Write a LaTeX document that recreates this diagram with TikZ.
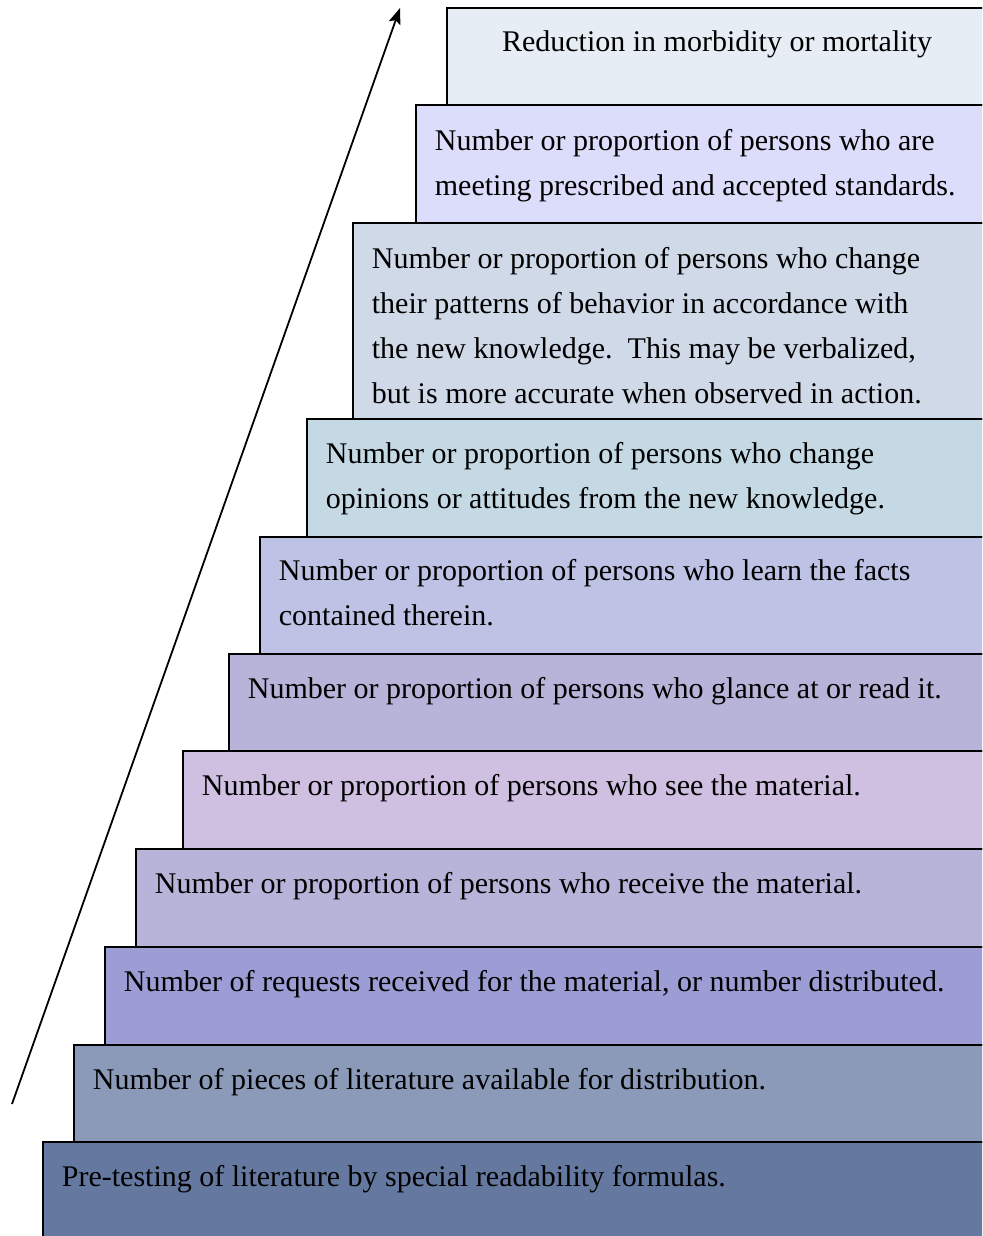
\documentclass[tikz,border=0pt]{standalone}
\usepackage{fontspec}
\setmainfont{Liberation Serif}
\usetikzlibrary{arrows.meta, positioning, calc}
\definecolor{stepA}{HTML}{E6EDF5}
\definecolor{stepB}{HTML}{DCDCFB}
\definecolor{stepC}{HTML}{D0D9E8}
\definecolor{stepD}{HTML}{C5D9E5}
\definecolor{stepE}{HTML}{BEC2E4}
\definecolor{stepF}{HTML}{B8B3D9}
\definecolor{stepG}{HTML}{CFC0E1}
\definecolor{stepH}{HTML}{B7B3D9}
\definecolor{stepI}{HTML}{9B9DD4}
\definecolor{stepJ}{HTML}{8A9AB8}
\definecolor{stepK}{HTML}{6579A0}
\tikzset{
  stairbox/.style={draw=black, line width=1pt, anchor=north west, inner sep=0pt, minimum width=#1},
  stairtext/.style={anchor=base west, align=left, inner sep=0pt, font=\fontsize{15}{22.5}\selectfont},
  risearr/.style={-{Stealth[length=8pt, width=6pt, inset=1.5pt]}, line width=0.9pt},
}
\begin{document}
\begin{tikzpicture}[x=0.5pt, y=-0.5pt]
    \useasboundingbox (0,0) rectangle (982,1236);
    \clip (0,0) rectangle (982,1236);
    % staircase, bottom step last
    \node[stairbox=270pt, fill=stepA, minimum height=48.5pt] (s1) at (446,7) {};
    \node[stairbox=285.5pt, fill=stepB, minimum height=59pt] (s2) at (415,104) {};
    \node[stairbox=317pt, fill=stepC, minimum height=98pt] (s3) at (352,222) {};
    \node[stairbox=340pt, fill=stepD, minimum height=59pt] (s4) at (306,418) {};
    \node[stairbox=363.5pt, fill=stepE, minimum height=58.5pt] (s5) at (259,536) {};
    \node[stairbox=379pt, fill=stepF, minimum height=48.5pt] (s6) at (228,653) {};
    \node[stairbox=402pt, fill=stepG, minimum height=49pt] (s7) at (182,750) {};
    \node[stairbox=425.5pt, fill=stepH, minimum height=49pt] (s8) at (135,848) {};
    \node[stairbox=441pt, fill=stepI, minimum height=49pt] (s9) at (104,946) {};
    \node[stairbox=456.5pt, fill=stepJ, minimum height=48.5pt] (s10) at (73,1044) {};
    \node[stairbox=472pt, fill=stepK, minimum height=52pt] (s11) at (42,1141) {};
    % labels (base = last line)
    \node[stairtext, anchor=base] (t1) at ($(s1.north west)+(271,45)$)
      {Reduction in morbidity or mortality};
    \node[stairtext] (t2) at ($(s2.north west)+(19.5,91)$)
      {Number or proportion of persons who are\\meeting prescribed and accepted standards.};
    \node[stairtext] (t3) at ($(s3.north west)+(19.5,181)$)
      {Number or proportion of persons who change\\their patterns of behavior in accordance with\\the new knowledge.\ \ This may be verbalized,\\but is more accurate when observed in action.};
    \node[stairtext] (t4) at ($(s4.north west)+(19.5,90)$)
      {Number or proportion of persons who change\\opinions or attitudes from the new knowledge.};
    \node[stairtext] (t5) at ($(s5.north west)+(19.5,89)$)
      {Number or proportion of persons who learn the facts\\contained therein.};
    \node[stairtext] (t6) at ($(s6.north west)+(19.5,45)$)
      {Number or proportion of persons who glance at or read it.};
    \node[stairtext] (t7) at ($(s7.north west)+(19.5,45)$)
      {Number or proportion of persons who see the material.};
    \node[stairtext] (t8) at ($(s8.north west)+(19.5,45)$)
      {Number or proportion of persons who receive the material.};
    \node[stairtext] (t9) at ($(s9.north west)+(19.5,45)$)
      {Number of requests received for the material, or number distributed.};
    \node[stairtext] (t10) at ($(s10.north west)+(19.5,45)$)
      {Number of pieces of literature available for distribution.};
    \node[stairtext] (t11) at ($(s11.north west)+(19.5,45)$)
      {Pre-testing of literature by special readability formulas.};
    % rising arrow
    \coordinate (arrbase) at (12,1104);
    \coordinate (arrtip) at (400,8);
    \draw[risearr] (arrbase) -- (arrtip);
  \end{tikzpicture}
\end{document}
